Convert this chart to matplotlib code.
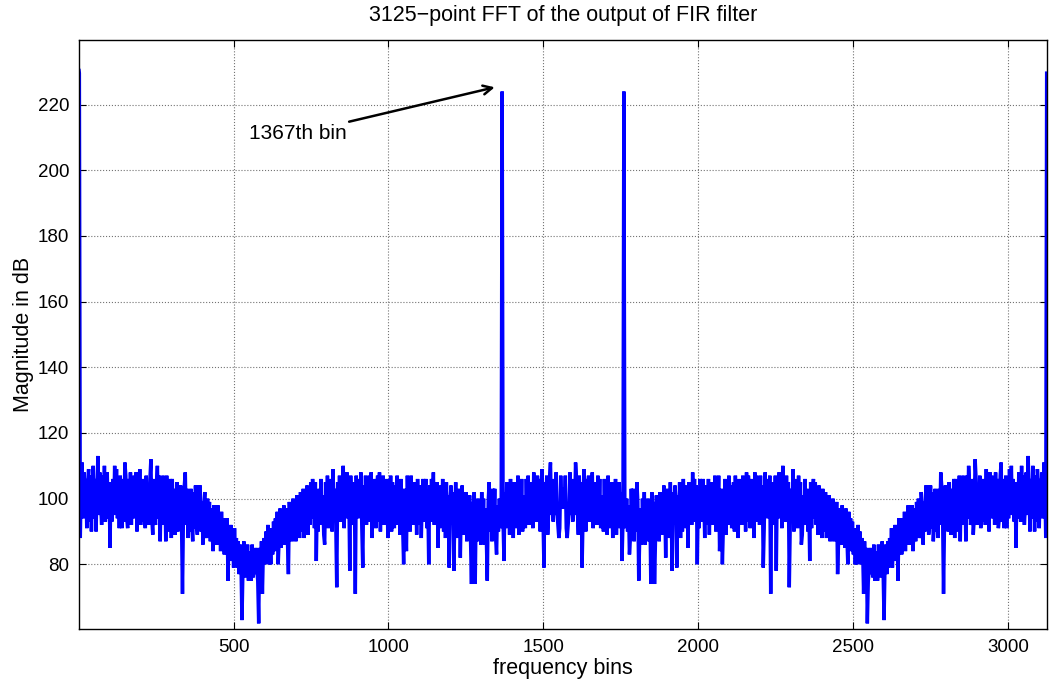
import numpy as np
import matplotlib.pyplot as plt

# --- Data ---
n_fft = 3125
dc_mag = 230.4
bin_step = 3

# magnitude (dB) at bins 2, 5, 8, ..., 1562 ; the upper half mirrors this (real input)
half_mag = [
    229.6, 88, 106, 111, 94, 108, 96, 106, 91, 105,
    109, 93, 107, 90, 105, 110, 94, 106, 90, 103,
    113, 95, 108, 98, 92, 107, 95, 110, 93, 106,
    108, 94, 105, 85, 104, 93, 106, 95, 110, 97,
    109, 94, 105, 91, 107, 95, 91, 106, 93, 111,
    107, 94, 91, 106, 95, 108, 92, 105, 94, 107,
    96, 108, 90, 105, 94, 109, 92, 104, 93, 106,
    95, 91, 107, 94, 104, 92, 106, 112, 94, 89,
    106, 94, 92, 104, 110, 94, 107, 87, 103, 92,
    107, 94, 105, 87, 107, 93, 104, 90, 106, 88,
    106, 93, 103, 89, 92, 105, 90, 101, 93, 104,
    92, 71, 95, 104, 108, 92, 103, 88, 101, 90,
    103, 92, 87, 102, 91, 104, 93, 89, 104, 91,
    104, 90, 99, 86, 98, 102, 90, 88, 100, 90,
    99, 87, 97, 89, 84, 98, 88, 96, 86, 98,
    87, 95, 84, 96, 86, 94, 83, 93, 85, 94,
    75, 91, 83, 92, 81, 89, 79, 91, 82, 88,
    79, 87, 77, 86, 80, 63, 78, 87, 76, 85,
    77, 86, 75, 84, 78, 75, 86, 76, 83, 77,
    85, 78, 75, 62, 85, 77, 87, 71, 84, 88,
    80, 90, 82, 92, 80, 88, 80, 91, 83, 93,
    84, 94, 86, 96, 80, 88, 97, 85, 95, 87,
    98, 86, 93, 97, 87, 77, 99, 88, 96, 87,
    100, 89, 98, 87, 101, 91, 99, 88, 102, 90,
    93, 103, 88, 100, 91, 104, 89, 101, 92, 105,
    94, 106, 102, 91, 105, 81, 99, 90, 103, 93,
    106, 92, 101, 89, 86, 105, 95, 107, 91, 102,
    94, 106, 90, 109, 96, 103, 92, 73, 105, 95,
    107, 93, 104, 96, 110, 91, 106, 95, 108, 94,
    103, 78, 107, 94, 105, 92, 102, 71, 107, 96,
    94, 106, 97, 108, 91, 79, 104, 94, 107, 92,
    105, 95, 107, 93, 108, 88, 103, 94, 106, 91,
    102, 107, 93, 108, 90, 104, 95, 107, 92, 103,
    95, 106, 88, 102, 93, 107, 90, 105, 95, 91,
    104, 93, 107, 92, 103, 89, 106, 95, 91, 80,
    103, 93, 84, 107, 94, 105, 90, 107, 96, 92,
    105, 93, 103, 89, 106, 95, 92, 104, 88, 101,
    106, 93, 103, 106, 91, 100, 80, 104, 93, 106,
    96, 108, 92, 103, 94, 105, 85, 102, 91, 104,
    94, 106, 90, 103, 88, 105, 93, 101, 79, 99,
    104, 92, 102, 78, 94, 105, 88, 101, 91, 103,
    82, 99, 104, 89, 100, 92, 102, 87, 99, 90,
    101, 88, 74, 99, 91, 102, 74, 97, 87, 100,
    89, 98, 86, 102, 91, 100, 86, 97, 88, 75,
    99, 105, 90, 101, 87, 103, 92, 103, 88, 83,
    98, 90, 100, 91, 99, 224, 93, 81, 102, 91,
    105, 93, 101, 89, 106, 92, 103, 88, 105, 94,
    102, 91, 107, 89, 104, 94, 106, 90, 101, 93,
    91, 106, 95, 107, 92, 103, 94, 105, 91, 108,
    95, 104, 93, 107, 96, 106, 90, 103, 109, 94,
    79, 105, 94, 107, 89, 96, 106, 111, 95, 104,
    93, 106, 95, 108, 96, 92, 88, 91, 107, 97,
    103,
]

x_ticks = [500, 1000, 1500, 2000, 2500, 3000]
y_ticks = [80, 100, 120, 140, 160, 180, 200, 220]

# --- Build full spectrum ---
half_mag = np.array(half_mag, dtype=float)
half_bins = 2 + bin_step * np.arange(len(half_mag))
bins = np.concatenate([[1], half_bins, (n_fft + 2 - half_bins)[::-1]])
mag = np.concatenate([[dc_mag], half_mag, half_mag[::-1]])

# --- Plot ---
plt.rcParams['font.family'] = ['Liberation Sans', 'DejaVu Sans']

fig = plt.figure(figsize=(10.58, 6.85), dpi=100)
ax = fig.add_axes([0.0747, 0.0818, 0.9146, 0.8598])

ax.plot(bins, mag, color=(0, 0, 1), lw=2.5, solid_joinstyle='miter')

ax.annotate("1367th bin", xy=(1343, 225.3), xytext=(864, 211.1),
            ha='right', va='center', fontsize=15,
            arrowprops=dict(arrowstyle='->', color='k', lw=1.8,
                            mutation_scale=16, shrinkA=0, shrinkB=0))

ax.set_xlim(1, n_fft)
ax.set_ylim(60.3, 239.7)
ax.set_xticks(x_ticks)
ax.set_yticks(y_ticks)
ax.grid(True, linestyle=':', color='0.45', linewidth=0.8)
ax.tick_params(direction='in', length=5, top=True, right=True, labelsize=13.5)
ax.tick_params(axis='x', pad=7)
ax.tick_params(axis='y', pad=7)
for s in ax.spines.values():
    s.set_linewidth(1.0)

ax.set_xlabel("frequency bins", fontsize=15.5, labelpad=2)
ax.set_ylabel("Magnitude in dB", fontsize=15.5, labelpad=3)
ax.set_title("3125\u2212point FFT of the output of FIR filter", fontsize=15.5, pad=14)

fig.savefig("out.png", dpi=100)
